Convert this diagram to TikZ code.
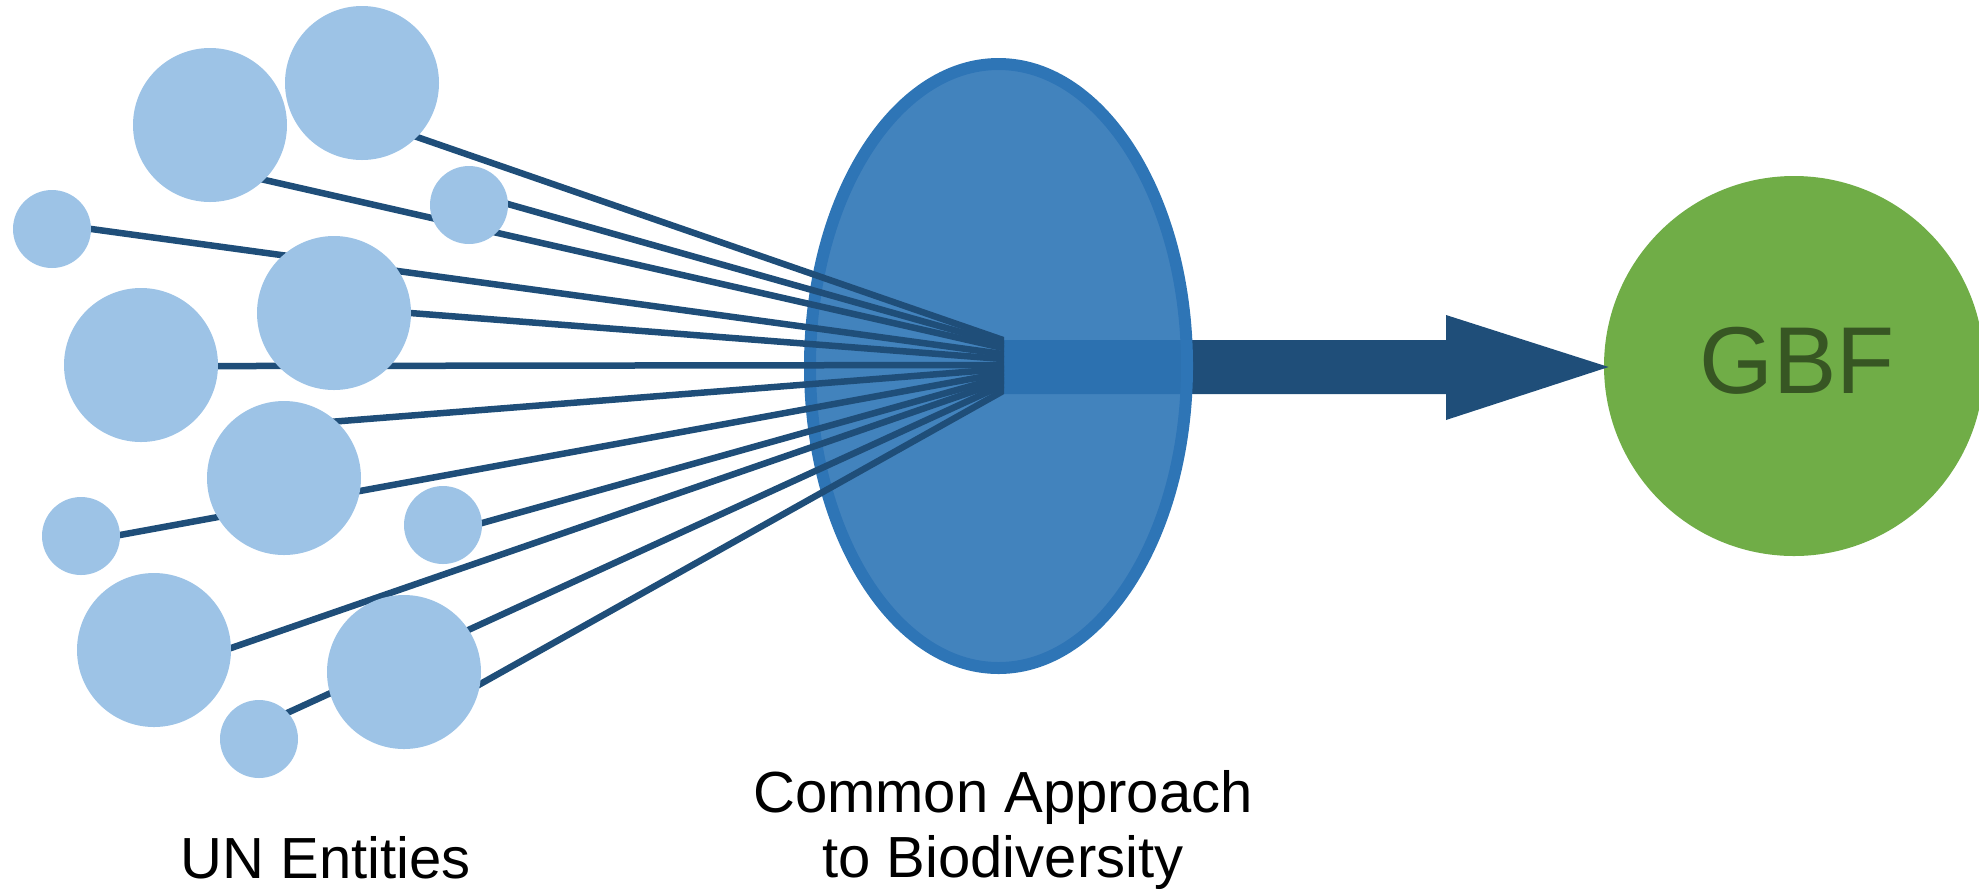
\documentclass[tikz,border=0pt]{standalone}
\usepackage{fontspec}
\setmainfont{Liberation Sans}
\usetikzlibrary{shapes.geometric,calc}
\definecolor{entc}{HTML}{9DC3E6}
\definecolor{linec}{HTML}{1F4E79}
\definecolor{capc}{HTML}{2E75B6}
\definecolor{gbfc}{HTML}{70AD47}
\definecolor{gbftxt}{HTML}{375623}
\begin{document}
\begin{tikzpicture}[x=0.5pt,y=-0.5pt,
  bigent/.style={circle,fill=entc,draw=none,inner sep=0pt,minimum size=77pt},
  smallent/.style={circle,fill=entc,draw=none,inner sep=0pt,minimum size=39pt},
  feed/.style={draw=linec,line width=3.25pt,shorten >=-8pt},
  capshape/.style={ellipse,draw=capc,fill=capc,fill opacity=0.9,line width=6pt,minimum width=188.5pt,minimum height=302pt,inner sep=0pt},
  gbfshape/.style={circle,fill=gbfc,draw=none,inner sep=0pt,minimum size=190pt},
  gbflab/.style={font=\fontsize{47.5}{50}\selectfont,text=gbftxt,inner sep=0pt},
  lab/.style={font=\fontsize{29}{34}\selectfont,anchor=base,inner sep=0pt},
  arrowc/.style={fill=linec,draw=none}
]
\useasboundingbox (0,0) rectangle (1979,891);

% target
\node[gbfshape] (gbf) at (1794,366) {};
\node[gbflab] (gbflabel) at (1797,361) {GBF};

% big arrow (under the ellipse)
\coordinate (ashaft) at (1004,367);
\fill[arrowc] ($(ashaft)+(0,-27)$) -- (1446,340) -- (1446,315) -- ($(gbf.west)+(5,1)$)
  -- (1446,420) -- (1446,394) -- ($(ashaft)+(0,27)$) -- cycle;

% common approach ellipse
\node[capshape] (cab) at (998.5,366) {};

% line start coordinates (hidden behind the entity circles)
\coordinate (s1) at (235,173.2);
\coordinate (s2) at (380,124.2);
\coordinate (s3) at (60,224.7);
\coordinate (s4) at (470,193.3);
\coordinate (s5) at (360,309.1);
\coordinate (s6) at (170,366.1);
\coordinate (s7) at (320,422.7);
\coordinate (s8) at (90,540.5);
\coordinate (s9) at (450,532);
\coordinate (s10) at (190,662.2);
\coordinate (s11) at (270,720.8);
\coordinate (s12) at (440,706.6);
% line end coordinates (fan at the arrow's tail)
\coordinate (e1) at (1003,348);
\coordinate (e2) at (1003,340);
\coordinate (e3) at (1003,354);
\coordinate (e4) at (1003,344);
\coordinate (e5) at (1003,359);
\coordinate (e6) at (1003,365);
\coordinate (e7) at (1003,369);
\coordinate (e8) at (1003,373);
\coordinate (e9) at (1003,377);
\coordinate (e10) at (1003,381);
\coordinate (e11) at (1003,385);
\coordinate (e12) at (1003,391);

\begin{scope}
  \clip (0,0) rectangle (1004,891);
  \foreach \i in {1,...,12} { \draw[feed] (s\i) -- (e\i); }
\end{scope}

% UN entities
\node[bigent]   (c1)  at (210,125) {};
\node[bigent]   (c2)  at (362,83)  {};
\node[smallent] (c3)  at (52,229)  {};
\node[smallent] (c4)  at (469,205) {};
\node[bigent]   (c5)  at (334,313) {};
\node[bigent]   (c6)  at (141,365) {};
\node[bigent]   (c7)  at (284,478) {};
\node[smallent] (c8)  at (81,536)  {};
\node[smallent] (c9)  at (443,525) {};
\node[bigent]   (c10) at (154,650) {};
\node[smallent] (c11) at (259,739) {};
\node[bigent]   (c12) at (404,672) {};

% labels
\node[lab] (un)  at (326,878)  {UN Entities};
\node[lab] (ca1) at (1003,812) {Common Approach};
\node[lab] (ca2) at (1003,877) {to Biodiversity};
\end{tikzpicture}
\end{document}
